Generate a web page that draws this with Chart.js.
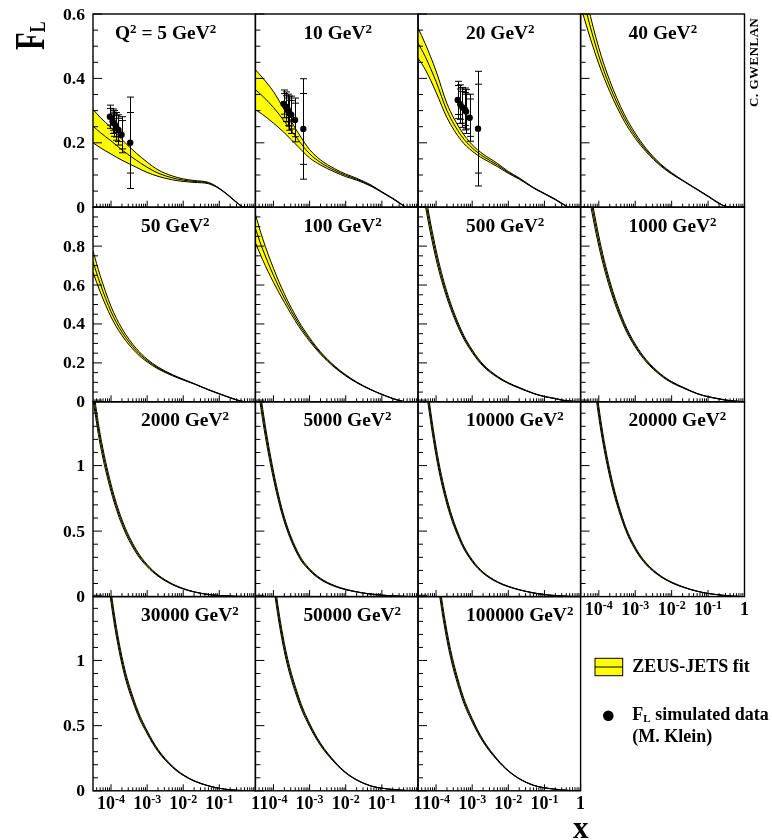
<!DOCTYPE html>
<html>
<head>
<meta charset="utf-8">
<script src="https://cdn.jsdelivr.net/npm/chart.js@4.4.1/dist/chart.umd.min.js"></script>
<style>
html,body{margin:0;padding:0;background:#fff;}
#wrap{position:relative;width:772px;height:840px;overflow:hidden;background:#fff;}
#wrap canvas{position:absolute;}
#overlay{position:absolute;left:0;top:0;pointer-events:none;}
</style>
</head>
<body>
<div id="wrap"></div>
<script>
// ================= DATA =================
const X_MIN = 3.1623e-5, X_MAX = 1;
const xGrid = [3.1623e-5, 5e-5, 1e-4, 2e-4, 5e-4, 1e-3, 2e-3, 5e-3, 1e-2, 2e-2, 5e-2, 0.1, 0.2, 0.3, 0.5, 1];
const q2Labels = ["5","10","20","40","50","100","500","1000","2000","5000","10000","20000","30000","50000","100000"];

// central F_L curves of the ZEUS-JETS fit (one per Q^2), read at xGrid
const fl_5      = [0.252,0.232,0.206,0.178,0.146,0.124,0.106,0.091,0.084,0.080,0.075,0.058,0.032,0.015,0,0];
const fl_10     = [0.365,0.345,0.310,0.267,0.207,0.166,0.139,0.114,0.099,0.087,0.067,0.047,0.027,0.014,0,0];
const fl_20     = [0.51,0.468,0.39,0.30,0.222,0.184,0.158,0.131,0.108,0.089,0.06,0.042,0.024,0.012,0,0];
const fl_40     = [0.685,0.589,0.47,0.376,0.278,0.222,0.177,0.131,0.105,0.083,0.055,0.034,0.012,0.003,0,0];
const fl_50     = [0.72,0.607,0.463,0.359,0.263,0.212,0.174,0.137,0.114,0.0925,0.062,0.041,0.021,0.010,0.001,0];
const fl_100    = [0.89,0.785,0.65,0.533,0.401,0.32,0.251,0.179,0.136,0.10,0.062,0.038,0.017,0.007,0,0];
const fl_500    = [1.29,1.044,0.757,0.549,0.358,0.26,0.188,0.128,0.096,0.072,0.043,0.027,0.0166,0.009,0.004,0];
const fl_1000   = [1.40,1.13,0.826,0.603,0.396,0.289,0.211,0.139,0.101,0.074,0.042,0.026,0.015,0.009,0.004,0];
const fl_2000   = [1.55,1.20,0.83,0.569,0.345,0.237,0.161,0.094,0.060,0.036,0.016,0.008,0.004,0.002,0.001,0];
const fl_5000   = [1.81,1.395,0.928,0.588,0.316,0.205,0.135,0.080,0.0545,0.036,0.019,0.011,0.006,0.0035,0.001,0];
const fl_10000  = [2.2,1.69,1.11,0.726,0.415,0.274,0.183,0.111,0.077,0.052,0.028,0.015,0.008,0.0045,0.0015,0];
const fl_20000  = [2.77,2.12,1.41,0.94,0.549,0.368,0.25,0.155,0.108,0.074,0.041,0.024,0.013,0.008,0.003,0];
const fl_30000  = [2.94,2.23,1.49,1.0,0.63,0.45,0.31,0.185,0.121,0.076,0.038,0.019,0.008,0.004,0.001,0];
const fl_50000  = [3.2,2.43,1.63,1.10,0.70,0.505,0.357,0.219,0.139,0.084,0.037,0.020,0.010,0.006,0.002,0];
const fl_100000 = [3.49,2.63,1.76,1.19,0.748,0.541,0.383,0.237,0.153,0.093,0.042,0.023,0.012,0.007,0.002,0];

// half-widths of the fit uncertainty band, read at xGrid
const band_5      = [0.052,0.047,0.041,0.032,0.022,0.016,0.010,0.006,0.004,0.003,0.002,0.001,0.001,0.001,0,0];
const band_10     = [0.062,0.057,0.049,0.036,0.021,0.013,0.008,0.005,0.004,0.003,0.002,0.001,0.001,0.001,0,0];
const band_20     = [0.047,0.040,0.033,0.022,0.015,0.010,0.007,0.005,0.003,0.002,0.001,0.001,0.001,0.001,0,0];
const band_40     = [0.06,0.04,0.025,0.017,0.011,0.008,0.005,0.003,0.002,0.001,0.001,0.001,0.001,0,0,0];
const band_50     = [0.055,0.042,0.027,0.018,0.011,0.007,0.005,0.003,0.002,0.001,0.001,0.001,0.001,0.001,0,0];
const band_100    = [0.073,0.055,0.036,0.022,0.013,0.009,0.006,0.004,0.003,0.002,0.001,0.001,0.001,0.001,0,0];
const band_500    = [0.04,0.032,0.024,0.016,0.01,0.007,0.005,0.003,0.002,0.002,0.001,0.001,0.001,0.001,0,0];
const band_1000   = [0.045,0.036,0.026,0.018,0.012,0.008,0.006,0.004,0.003,0.002,0.001,0.001,0.001,0.001,0,0];
const band_2000   = [0.05,0.04,0.028,0.02,0.013,0.008,0.005,0.003,0.002,0.001,0.001,0,0,0,0,0];
const band_5000   = [0.06,0.045,0.03,0.019,0.011,0.007,0.005,0.003,0.002,0.001,0.001,0,0,0,0,0];
const band_10000  = [0.07,0.05,0.035,0.023,0.012,0.008,0.005,0.003,0.002,0.001,0.001,0,0,0,0,0];
const band_20000  = [0.09,0.065,0.042,0.028,0.015,0.01,0.007,0.004,0.003,0.002,0.001,0,0,0,0,0];
const band_30000  = [0.1,0.065,0.045,0.03,0.018,0.012,0.008,0.005,0.003,0.002,0.001,0,0,0,0,0];
const band_50000  = [0.11,0.075,0.048,0.032,0.02,0.013,0.009,0.005,0.003,0.002,0.001,0,0,0,0,0];
const band_100000 = [0.12,0.08,0.05,0.035,0.021,0.014,0.009,0.005,0.003,0.002,0.001,0,0,0,0,0];

// simulated F_L data (M. Klein) for Q^2 = 5, 10, 20
const data5X    = [9.3e-5, 1.1e-4, 1.23e-4, 1.38e-4, 1.6e-4, 1.95e-4, 3.4e-4];
const data5FL   = [0.281, 0.267, 0.260, 0.251, 0.240, 0.225, 0.200];
const data5Stat = [0.026, 0.028, 0.030, 0.033, 0.036, 0.044, 0.094];
const data5Tot  = [0.036, 0.038, 0.040, 0.043, 0.047, 0.056, 0.142];
const data10X    = [1.9e-4, 2.2e-4, 2.5e-4, 2.75e-4, 3.1e-4, 3.95e-4, 6.7e-4];
const data10FL   = [0.321, 0.312, 0.302, 0.292, 0.287, 0.271, 0.243];
const data10Stat = [0.032, 0.034, 0.037, 0.040, 0.044, 0.052, 0.110];
const data10Tot  = [0.043, 0.046, 0.049, 0.053, 0.058, 0.068, 0.156];
const data20X    = [3.98e-4, 4.68e-4, 5.37e-4, 6.17e-4, 6.76e-4, 8.5e-4, 1.45e-3];
const data20FL   = [0.333, 0.320, 0.310, 0.305, 0.297, 0.278, 0.244];
const data20Stat = [0.045, 0.047, 0.049, 0.051, 0.054, 0.058, 0.138];
const data20Tot  = [0.058, 0.060, 0.062, 0.065, 0.068, 0.073, 0.178];

// tick labels
const xTickValues = [1e-4, 1e-3, 1e-2, 1e-1, 1];
const xTickLabels = [["10","-4"],["10","-3"],["10","-2"],["10","-1"],["1",""]];
const yTickValuesByRow = [[0,0.2,0.4,0.6],[0,0.2,0.4,0.6,0.8],[0,0.5,1],[0,0.5,1]];
const yTickLabelsByRow = [["0","0.2","0.4","0.6"],["0","0.2","0.4","0.6","0.8"],["0","0.5","1"],["0","0.5","1"]];

// ================= LAYOUT =================
const colLefts = [93, 255.4, 418, 580.6];
const colRights = [255.4, 418, 580.6, 744.5];
const rowTops = [14, 207.2, 401.8, 596.6];
const rowBottoms = [207.2, 401.8, 596.6, 790.8];
const rowYMax = [0.6, 1.0, 1.487, 1.49];
const rowMinorStep = [0.05, 0.05, 0.1, 0.1];
const rowMajorStep = [0.2, 0.2, 0.5, 0.5];

const centralCurves = [fl_5,fl_10,fl_20,fl_40,fl_50,fl_100,fl_500,fl_1000,fl_2000,fl_5000,fl_10000,fl_20000,fl_30000,fl_50000,fl_100000];
const bandWidths = [band_5,band_10,band_20,band_40,band_50,band_100,band_500,band_1000,band_2000,band_5000,band_10000,band_20000,band_30000,band_50000,band_100000];
const dataSets = {0:[data5X,data5FL,data5Stat,data5Tot],1:[data10X,data10FL,data10Stat,data10Tot],2:[data20X,data20FL,data20Stat,data20Tot]};

const FONT = '"Liberation Serif","DejaVu Serif",serif';
const wrap = document.getElementById('wrap');

function sText(ctx, txt, x, y, size, sx, align){
  ctx.save();
  ctx.translate(x, y);
  ctx.scale(sx, 1);
  ctx.font = 'bold ' + size + 'px ' + FONT;
  ctx.textAlign = align; ctx.textBaseline = 'alphabetic';
  ctx.fillStyle = '#000';
  ctx.fillText(txt, 0, 0);
  ctx.restore();
}

function buildPanel(i){
  const row = Math.floor(i/4), col = i%4;
  const L = colLefts[col], R = colRights[col], T = rowTops[row], B = rowBottoms[row];
  const cx = Math.floor(L) - 70, cy = Math.max(0, Math.floor(T) - 14);
  const cw = Math.ceil(R) + 16 - cx, ch = Math.ceil(B) + 30 - cy;
  const canvas = document.createElement('canvas');
  canvas.width = cw; canvas.height = ch;
  canvas.style.left = cx + 'px'; canvas.style.top = cy + 'px';
  canvas.style.width = cw + 'px'; canvas.style.height = ch + 'px';
  wrap.appendChild(canvas);

  const c = centralCurves[i], w = bandWidths[i];
  const central = xGrid.map((x,k)=>({x, y:c[k]}));
  const upper = xGrid.map((x,k)=>({x, y:c[k]+w[k]}));
  const lower = xGrid.map((x,k)=>({x, y:c[k]-w[k]}));
  const lineBase = {borderColor:'#000', borderWidth:1, pointRadius:0, cubicInterpolationMode:'monotone'};
  const datasets = [
    Object.assign({label:'central', data:central, fill:false}, lineBase),
    Object.assign({label:'upper', data:upper, fill:'+1', backgroundColor:'#ffff00'}, lineBase),
    Object.assign({label:'lower', data:lower, fill:false}, lineBase)
  ];
  const ds = dataSets[i];
  if (ds){
    datasets.unshift({label:'data', data: ds[0].map((x,k)=>({x, y: ds[1][k]})), showLine:false,
      pointRadius:3.2, pointBackgroundColor:'#000', pointBorderColor:'#000', pointBorderWidth:0});
  }
  const showX = (row === 3) || (i === 11);

  const deco = {
    id: 'deco' + i,
    afterDatasetsDraw(chart){
      if (!ds) return;
      const ctx = chart.ctx, xs = chart.scales.x, ys = chart.scales.y;
      ctx.save();
      ctx.strokeStyle = '#000'; ctx.lineWidth = 1;
      ds[0].forEach((xv,k)=>{
        const px = Math.round(xs.getPixelForValue(xv)) + 0.5;
        const yc = ds[1][k];
        const yT = ys.getPixelForValue(yc + ds[3][k]), yB = ys.getPixelForValue(yc - ds[3][k]);
        const sT = ys.getPixelForValue(yc + ds[2][k]), sB = ys.getPixelForValue(yc - ds[2][k]);
        ctx.beginPath();
        ctx.moveTo(px, yT); ctx.lineTo(px, yB);
        [yT, yB, sT, sB].forEach(yy=>{ ctx.moveTo(px-3.5, yy); ctx.lineTo(px+3.5, yy); });
        ctx.stroke();
      });
      ctx.restore();
    },
    afterDraw(chart){
      const ctx = chart.ctx, a = chart.chartArea, xs = chart.scales.x, ys = chart.scales.y;
      ctx.save();
      ctx.strokeStyle = '#000';
      ctx.lineWidth = 1;
      ctx.beginPath();
      const nMinor = Math.round(rowYMax[row] / rowMinorStep[row] + 1e-6);
      for (let k = 0; k <= nMinor; k++){
        const v = k * rowMinorStep[row];
        const ratio = v / rowMajorStep[row];
        const isMajor = Math.abs(ratio - Math.round(ratio)) < 1e-6;
        const py = ys.getPixelForValue(v);
        ctx.moveTo(a.left, py); ctx.lineTo(a.left + (isMajor ? 9 : 5), py);
      }
      for (let e = -5; e <= 0; e++){
        for (let m = 1; m <= 9; m++){
          const v = m * Math.pow(10, e);
          if (v < X_MIN * 0.999 || v > X_MAX * 1.001) continue;
          const px = xs.getPixelForValue(v);
          ctx.moveTo(px, a.bottom); ctx.lineTo(px, a.bottom - (m === 1 ? 6.5 : 3.5));
        }
      }
      ctx.stroke();
      ctx.lineWidth = 1.4;
      ctx.strokeRect(a.left, a.top, a.right - a.left, a.bottom - a.top);
      if (col === 0){
        yTickValuesByRow[row].forEach((v,k)=>{
          const py = ys.getPixelForValue(v);
          sText(ctx, yTickLabelsByRow[row][k], a.left - 8, py + 5.5, 16, 1.1, 'right');
        });
      }
      if (showX){
        xTickValues.forEach((v,k)=>{
          const px = xs.getPixelForValue(v);
          const main = xTickLabels[k][0], sup = xTickLabels[k][1];
          ctx.font = 'bold 18px ' + FONT;
          const w1 = ctx.measureText(main).width;
          ctx.font = 'bold 12px ' + FONT;
          const w2 = sup ? ctx.measureText(sup).width : 0;
          const start = px - (w1 + w2) / 2;
          sText(ctx, main, start, a.bottom + 18, 18, 1, 'left');
          if (sup) sText(ctx, sup, start + w1, a.bottom + 12.5, 12, 1, 'left');
        });
      }
      ctx.restore();
    }
  };

  new Chart(canvas, {
    type: 'line',
    data: {datasets},
    options: {
      responsive: false, animation: false, devicePixelRatio: 1, events: [],
      layout: {padding: {left: L - cx, right: cw - (R - cx), top: T - cy, bottom: ch - (B - cy)}},
      scales: {
        x: {type:'logarithmic', min: X_MIN, max: X_MAX, bounds:'data', display:false},
        y: {type:'linear', min: 0, max: rowYMax[row], display:false}
      },
      plugins: {legend:{display:false}, tooltip:{enabled:false}, filler:{drawTime:'beforeDatasetsDraw'}}
    },
    plugins: [deco]
  });
}

for (let i = 0; i < 15; i++) buildPanel(i);

// ================= TEXT OVERLAY (SVG) =================
const svgParts = [];
const ff = `font-family='Liberation Serif, DejaVu Serif, serif' font-weight='bold' fill='#000' style='white-space:pre'`;
for (let i = 0; i < 15; i++){
  const row = Math.floor(i/4), col = i%4;
  const x = colLefts[col] + (i === 0 ? 22 : 48);
  const y = rowTops[row] + 24.5;
  const content = i === 0
    ? `Q<tspan dy='-6' font-size='12'>2</tspan><tspan dy='6'> = 5 GeV</tspan><tspan dy='-6' font-size='12'>2</tspan>`
    : `${q2Labels[i]} GeV<tspan dy='-6' font-size='12'>2</tspan>`;
  svgParts.push(`<g transform='translate(${x},${y}) scale(1.08,1)'><text x='0' y='0' font-size='18' ${ff}>${content}</text></g>`);
}
svgParts.push(`<g transform='translate(43.5,50) rotate(-90) scale(1,1.43)'><text x='0' y='0' font-size='29' ${ff}>F<tspan font-size='16' dy='1'>L</tspan></text></g>`);
svgParts.push(`<text x='573' y='838' font-size='31' ${ff}>x</text>`);
svgParts.push(`<g transform='translate(758,107) rotate(-90)'><text x='0' y='0' font-size='13' letter-spacing='0.5' ${ff}>C. GWENLAN</text></g>`);
svgParts.push(`<rect x='595' y='658.3' width='27.7' height='17.4' fill='#ffff00' stroke='#000' stroke-width='1'/>`);
svgParts.push(`<line x1='595' y1='667' x2='622.7' y2='667' stroke='#000' stroke-width='1'/>`);
svgParts.push(`<text x='632.3' y='671.7' font-size='18' ${ff}>ZEUS-JETS fit</text>`);
svgParts.push(`<circle cx='608.3' cy='715.7' r='5.3' fill='#000'/>`);
svgParts.push(`<text x='632.3' y='719.5' font-size='18' ${ff}>F<tspan font-size='11' dy='2.4'>L</tspan><tspan dy='-2.4'> simulated data</tspan></text>`);
svgParts.push(`<text x='632.3' y='741.5' font-size='18' ${ff}>(M. Klein)</text>`);

const svgNS = 'http://www.w3.org/2000/svg';
const holder = document.createElement('div');
holder.innerHTML = `<svg id='overlay' xmlns='${svgNS}' width='772' height='840' viewBox='0 0 772 840'>${svgParts.join('')}</svg>`;
wrap.appendChild(holder.firstChild);
</script>
</body>
</html>
